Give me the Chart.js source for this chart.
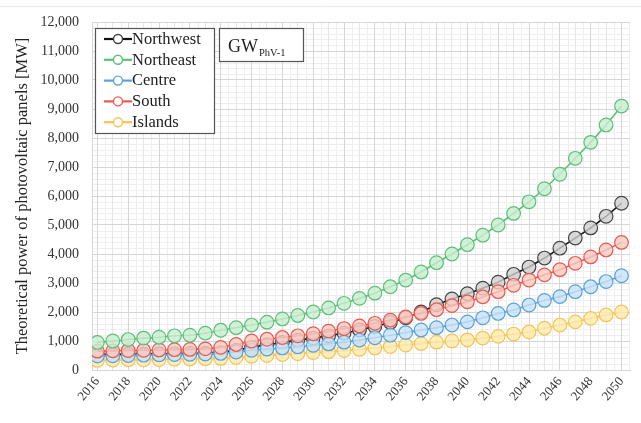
<!DOCTYPE html>
<html>
<head>
<meta charset="utf-8">
<script src="https://cdn.jsdelivr.net/npm/chart.js@4/dist/chart.umd.min.js"></script>
<style>
  html, body { margin: 0; padding: 0; background: #ffffff; }
  #wrap { width: 641px; height: 423px; position: relative; }
</style>
</head>
<body>
<div id="wrap"><canvas id="c" width="641" height="423"></canvas></div>
<script>
// Projection years
const years = [];
for (let y = 2016; y <= 2050; y++) years.push(y);

// Theoretical photovoltaic power per macro-region [MW]
const northwest = [540,540,550,550,560,560,570,580,600,680,780,870,950,1030,1100,1180,1270,1380,1500,1640,1800,2000,2250,2450,2630,2820,3030,3300,3550,3860,4200,4550,4900,5300,5750];
const northeast = [950,1000,1050,1100,1130,1180,1200,1270,1370,1460,1550,1650,1760,1880,2000,2140,2300,2470,2650,2870,3100,3380,3700,4000,4320,4650,5000,5400,5800,6250,6750,7300,7850,8450,9100];
const centre    = [480,490,500,510,520,530,540,550,570,620,680,720,760,800,850,900,960,1030,1110,1200,1290,1380,1460,1550,1660,1800,1950,2070,2240,2400,2530,2700,2870,3050,3250];
const south     = [650,660,670,680,690,700,710,730,780,880,1000,1060,1120,1180,1250,1340,1430,1520,1610,1720,1830,1950,2080,2220,2350,2520,2700,2920,3100,3280,3460,3680,3900,4140,4400];
const islands   = [330,340,350,350,360,370,380,390,400,430,470,500,530,560,600,630,670,710,760,810,860,910,960,1000,1040,1100,1160,1240,1310,1440,1550,1660,1780,1900,2000];

const seriesNames = ['Northwest', 'Northeast', 'Centre', 'South', 'Islands'];
const yTicks = [0,1000,2000,3000,4000,5000,6000,7000,8000,9000,10000,11000,12000];

const SERIF = '"Liberation Serif", "DejaVu Serif", serif';

function pts(vals) { return vals.map((v, i) => ({ x: years[i], y: v })); }

const styles = [
  { line: '#111111', edge: '#444444', fill: 'rgba(208,208,208,0.8)', order: 5 },
  { line: '#5cc078', edge: '#5cc078', fill: 'rgba(200,238,208,0.8)', order: 1 },
  { line: '#5aa2dc', edge: '#5aa2dc', fill: 'rgba(200,226,248,0.8)', order: 3 },
  { line: '#e85a50', edge: '#e85a50', fill: 'rgba(250,202,194,0.8)', order: 2 },
  { line: '#f4c556', edge: '#f4c556', fill: 'rgba(255,235,175,0.8)', order: 4 }
];

const datasets = [northwest, northeast, centre, south, islands].map((vals, i) => ({
  label: seriesNames[i],
  data: pts(vals),
  borderColor: styles[i].line,
  borderWidth: 1.6,
  pointBorderColor: styles[i].edge,
  pointBackgroundColor: styles[i].fill,
  pointBorderWidth: 1.2,
  pointRadius: 6.8,
  pointHoverRadius: 6.8,
  order: styles[i].order,
  tension: 0
}));

// Light minor grid drawn underneath the major one, plus the thin frame line on top
const minorGrid = {
  id: 'minorGrid',
  beforeDraw(chart) {
    const { ctx, chartArea: a, scales } = chart;
    ctx.save();
    ctx.strokeStyle = '#e9e9e9';
    ctx.lineWidth = 1;
    ctx.beginPath(); ctx.moveTo(0, 6.5); ctx.lineTo(chart.width, 6.5); ctx.stroke();
    ctx.strokeStyle = '#efefef';
    for (let v = 0; v <= 12000; v += 200) {
      if (v % 1000 === 0) continue;
      const y = Math.round(scales.y.getPixelForValue(v)) + 0.5;
      ctx.beginPath(); ctx.moveTo(a.left, y); ctx.lineTo(a.right, y); ctx.stroke();
    }
    for (let yr = 2015.5; yr <= 2050.5; yr += 1) {
      const x = Math.round(scales.x.getPixelForValue(yr)) + 0.5;
      if (x < a.left || x > a.right) continue;
      ctx.beginPath(); ctx.moveTo(x, a.top); ctx.lineTo(x, a.bottom); ctx.stroke();
    }
    ctx.restore();
  }
};

// Boxed legend and scenario label inside the plot area
const boxes = {
  id: 'boxes',
  afterDraw(chart) {
    const { ctx, chartArea: a } = chart;
    ctx.save();
    // legend
    const lx = a.left + 3, ly = a.top + 6, lw = 119, lh = 105;
    ctx.fillStyle = '#ffffff';
    ctx.fillRect(lx, ly, lw, lh);
    ctx.strokeStyle = '#555555';
    ctx.lineWidth = 1.2;
    ctx.strokeRect(lx + 0.5, ly + 0.5, lw, lh);
    ctx.font = '16.5px ' + SERIF;
    ctx.textBaseline = 'middle';
    chart.data.datasets.forEach((ds, i) => {
      const cy = ly + 11 + i * 20.8;
      const x0 = lx + 9, x1 = lx + 37, cx = (x0 + x1) / 2;
      ctx.strokeStyle = ds.borderColor;
      ctx.lineWidth = 2.2;
      ctx.beginPath(); ctx.moveTo(x0, cy); ctx.lineTo(x1, cy); ctx.stroke();
      ctx.beginPath(); ctx.arc(cx, cy, 4.5, 0, Math.PI * 2);
      ctx.fillStyle = '#ffffff'; ctx.fill();
      ctx.lineWidth = 1.4; ctx.strokeStyle = ds.pointBorderColor; ctx.stroke();
      ctx.fillStyle = '#222222';
      ctx.textAlign = 'left';
      ctx.fillText(ds.label, x1, cy + 0.5);
    });
    // scenario label
    const gx = a.left + 127, gy = a.top + 6, gw = 84, gh = 33;
    ctx.fillStyle = '#ffffff';
    ctx.fillRect(gx, gy, gw, gh);
    ctx.strokeStyle = '#555555';
    ctx.lineWidth = 1.2;
    ctx.strokeRect(gx + 0.5, gy + 0.5, gw, gh);
    ctx.fillStyle = '#222222';
    ctx.textBaseline = 'alphabetic';
    ctx.font = '18px ' + SERIF;
    ctx.fillText('GW', gx + 9, gy + 24);
    const w = ctx.measureText('GW').width;
    ctx.font = '10.5px ' + SERIF;
    ctx.fillText('PhV-1', gx + 9 + w + 1, gy + 28);
    ctx.restore();
  }
};

new Chart(document.getElementById('c'), {
  type: 'line',
  data: { datasets },
  plugins: [minorGrid, boxes],
  options: {
    responsive: false,
    animation: false,
    layout: { padding: { left: 13, top: 22, right: 11, bottom: 0 } },
    plugins: { legend: { display: false }, tooltip: { enabled: false } },
    scales: {
      x: {
        type: 'linear',
        min: 2015.65,
        max: 2050.55,
        afterFit(s) { s.height = 53; },
        ticks: {
          stepSize: 1,
          includeBounds: false,
          autoSkip: false,
          maxRotation: 50,
          minRotation: 50,
          padding: 4,
          color: '#333333',
          font: { family: SERIF, size: 13 },
          callback: v => (Number.isInteger(v) && v % 2 === 0) ? String(v) : ''
        },
        grid: {
          drawTicks: false,
          color: c => (c.tick && c.tick.value % 2 === 0) ? '#d6d6d6' : '#e6e6e6'
        },
        border: { color: '#d6d6d6' }
      },
      y: {
        type: 'linear',
        min: 0,
        max: 12000,
        afterFit(s) { s.width = 79; },
        afterBuildTicks(s) { s.ticks = yTicks.map(v => ({ value: v })); },
        ticks: {
          padding: 13,
          color: '#333333',
          font: { family: SERIF, size: 14 },
          callback: v => v.toLocaleString('en-US')
        },
        grid: { drawTicks: false, color: '#d6d6d6' },
        border: { color: '#d6d6d6' },
        title: {
          display: true,
          text: 'Theoretical power of photovoltaic panels [MW]',
          color: '#222222',
          font: { family: SERIF, size: 16.5 },
          padding: { top: 0, bottom: 0 }
        }
      }
    }
  }
});
</script>
</body>
</html>
